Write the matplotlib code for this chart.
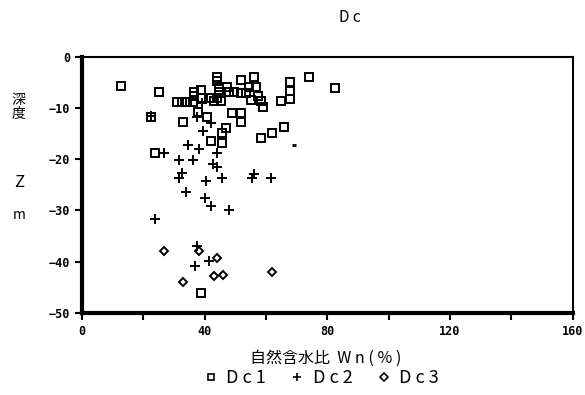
import matplotlib
matplotlib.use('Agg')
import matplotlib.pyplot as plt

plt.rcParams['font.family'] = ['Noto Sans CJK JP', 'DejaVu Sans']

# Dc1 (squares): natural water content Wn (%) vs depth Z (m)
dc1_wn = [12.7, 25.0, 22.6, 31.0, 32.7, 34.3, 36.3, 36.4, 36.4, 38.7, 38.7,
          38.0, 33.0, 40.9, 43.0, 45.2, 43.9, 43.9, 44.6, 44.6, 47.4, 48.0,
          51.8, 49.5, 51.8, 53.4, 56.2, 54.4, 56.7, 55.0, 57.3, 58.4, 58.9,
          49.0, 51.8, 51.8, 64.9, 68.0, 68.0, 68.0, 46.9, 45.8, 42.0, 45.8,
          58.4, 61.9, 66.0, 23.9, 74.0, 82.6, 42.2, 43.9, 38.9]
dc1_z = [-5.7, -6.8, -11.8, -8.8, -8.8, -8.8, -8.8, -6.9, -7.7, -6.4, -8.1,
         -10.7, -12.8, -11.7, -8.7, -8.7, -4.0, -4.8, -5.8, -6.8, -5.8, -6.8,
         -4.6, -6.8, -7.0, -7.0, -4.0, -5.8, -5.8, -8.4, -7.7, -8.7, -9.7,
         -10.9, -10.9, -12.8, -8.7, -5.0, -6.7, -8.3, -13.9, -14.9, -16.5, -16.8,
         -15.8, -14.9, -13.7, -18.8, -4.0, -6.0, -8.1, -8.1, -46.2]

# Dc2 (plus)
dc2_wn = [22.6, 39.0, 37.5, 42.2, 39.5, 34.6, 38.2, 44.2, 26.9, 31.7, 36.1,
          42.8, 43.9, 32.6, 31.7, 40.5, 45.6, 56.2, 55.4, 61.8, 33.9, 40.0,
          42.2, 48.0, 23.8, 37.6, 41.5, 36.9]
dc2_z = [-11.5, -9.0, -11.8, -13.0, -14.5, -17.2, -17.9, -18.7, -18.8, -20.2,
         -20.2, -20.9, -21.6, -22.7, -23.7, -24.3, -23.7, -22.8, -23.7, -23.7,
         -26.3, -27.6, -29.2, -29.9, -31.7, -36.9, -39.8, -40.8]

# Dc3 (diamonds)
dc3_wn = [26.9, 38.1, 43.9, 43.0, 46.0, 33.0, 61.9]
dc3_z = [-37.9, -37.9, -39.3, -42.9, -42.6, -44.0, -42.0]

# stray mark near the right of the cloud
odd_wn = [69.0]
odd_z = [-17.3]

fig = plt.figure(figsize=(5.85, 3.95), dpi=100)
ax = fig.add_axes([0.140, 0.208, 0.839, 0.648])

ax.plot(dc1_wn, dc1_z, 's', ms=5.4, mfc='none', mec='black', mew=1.4)
ax.plot(dc2_wn, dc2_z, '+', ms=6.5, mec='black', mew=1.4)
ax.plot(dc3_wn, dc3_z, 'D', ms=4.2, mfc='none', mec='black', mew=1.4)
ax.plot(odd_wn, odd_z, '_', ms=3, mec='black', mew=2)

ax.set_xlim(0, 160)
ax.set_ylim(-50, 0)
ax.set_xticks([0, 40, 80, 120, 160])
ax.set_xticks([20, 60, 100, 140], minor=True)
ax.set_yticks([0, -10, -20, -30, -40, -50])
ax.tick_params(direction='out', length=5, width=1.5, labelsize=8.5)
ax.tick_params(which='minor', direction='out', length=5, width=1.5)
for lab in ax.get_xticklabels() + ax.get_yticklabels():
    lab.set_family('DejaVu Sans Mono')
    lab.set_fontweight('bold')

ax.spines['left'].set_linewidth(3)
ax.spines['bottom'].set_linewidth(3)
ax.spines['top'].set_linewidth(1.5)
ax.spines['right'].set_linewidth(1.5)

fig.text(0.598, 0.955, 'D c', ha='center', va='center', fontsize=11)
fig.text(0.032, 0.73, '深\n度', ha='center', va='center', fontsize=10,
         linespacing=1.0)
fig.text(0.032, 0.537, 'Z', ha='center', va='center', fontsize=12)
fig.text(0.032, 0.455, 'm', ha='center', va='center', fontsize=10)
fig.text(0.556, 0.094, '自然含水比  W n ( % )', ha='center', va='center',
         fontsize=11.5)

# legend row built from proxy markers
h1, = ax.plot([], [], 's', ms=4.5, mfc='none', mec='black', mew=1.2)
h2, = ax.plot([], [], '+', ms=6, mec='black', mew=1.2)
h3, = ax.plot([], [], 'D', ms=4, mfc='none', mec='black', mew=1.2)
fig.legend([h1, h2, h3], ['D c 1', 'D c 2', 'D c 3'], loc='center',
           bbox_to_anchor=(0.55, 0.043), ncol=3, frameon=False,
           fontsize=13, handlelength=0.7, handletextpad=0.5,
           columnspacing=1.4)

plt.savefig('out.png', dpi=100)
